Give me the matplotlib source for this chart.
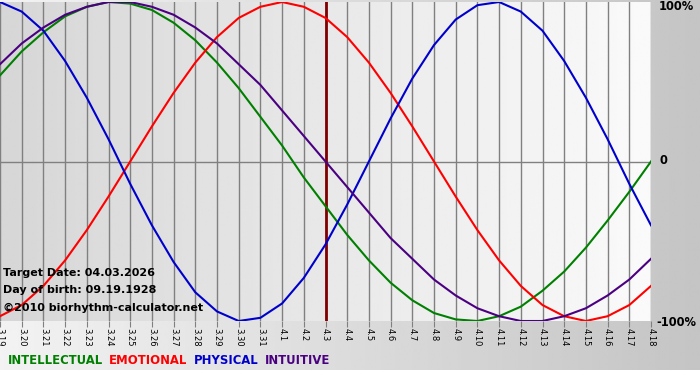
import numpy as np
import matplotlib
matplotlib.use("Agg")
import matplotlib.pyplot as plt

# days shown on the x axis (month.day)
days = ["3.19", "3.20", "3.21", "3.22", "3.23", "3.24", "3.25", "3.26", "3.27", "3.28",
        "3.29", "3.30", "3.31", "4.1", "4.2", "4.3", "4.4", "4.5", "4.6", "4.7",
        "4.8", "4.9", "4.10", "4.11", "4.12", "4.13", "4.14", "4.15", "4.16", "4.17", "4.18"]
target_day = "4.3"

# cycle values, one per day (-1..1)
intellectual = [0.54, 0.69, 0.81, 0.91, 0.97, 1.00, 0.99, 0.95, 0.87, 0.76,
                0.62, 0.46, 0.28, 0.10, -0.10, -0.28, -0.46, -0.62, -0.76, -0.87,
                -0.95, -0.99, -1.00, -0.97, -0.91, -0.81, -0.69, -0.54, -0.37, -0.19, 0.00]
emotional = [-0.97, -0.90, -0.78, -0.62, -0.43, -0.22, 0.00, 0.22, 0.43, 0.62,
             0.78, 0.90, 0.97, 1.00, 0.97, 0.90, 0.78, 0.62, 0.43, 0.22,
             0.00, -0.22, -0.43, -0.62, -0.78, -0.90, -0.97, -1.00, -0.97, -0.90, -0.78]
physical = [1.00, 0.94, 0.82, 0.63, 0.40, 0.14, -0.14, -0.40, -0.63, -0.82,
            -0.94, -1.00, -0.98, -0.89, -0.73, -0.52, -0.27, 0.00, 0.27, 0.52,
            0.73, 0.89, 0.98, 1.00, 0.94, 0.82, 0.63, 0.40, 0.14, -0.14, -0.40]
intuitive = [0.61, 0.74, 0.84, 0.92, 0.97, 1.00, 1.00, 0.97, 0.92, 0.84,
             0.74, 0.61, 0.48, 0.32, 0.16, 0.00, -0.16, -0.32, -0.48, -0.61,
             -0.74, -0.84, -0.92, -0.97, -1.00, -1.00, -0.97, -0.92, -0.84, -0.74, -0.61]

series = [("INTELLECTUAL", intellectual, "#008000"),
          ("EMOTIONAL", emotional, "#ff0000"),
          ("PHYSICAL", physical, "#0000cc"),
          ("INTUITIVE", intuitive, "#4b0082")]

W, H = 700, 380
fig = plt.figure(figsize=(W / 100, H / 100), dpi=100)
fig.patch.set_facecolor("white")

# grey gradient panel behind everything
bg = fig.add_axes([0, 10 / H, 1, 1 - 10 / H])
grad = np.linspace(0.95, 0.77, 256).reshape(1, -1)
bg.imshow(grad, cmap="gray", vmin=0, vmax=1, aspect="auto", extent=[0, 1, 0, 1])
bg.axis("off")

x = np.arange(len(days))
ax = fig.add_axes([0, 1 - 321 / H, 651 / W, 319 / H])
ax.set_xlim(0, len(days) - 1)
ax.set_ylim(-1.0, 1.0)
pgrad = np.linspace(0.84, 0.98, 256).reshape(1, -1)
ax.imshow(pgrad, cmap="gray", vmin=0, vmax=1, aspect="auto",
          extent=[0, len(days) - 1, -1, 1], zorder=0)

for xi in x:
    ax.axvline(xi, color="#808080", lw=1, zorder=1)
ax.axhline(0, color="#808080", lw=1, zorder=1)
ax.axvline(days.index(target_day), color="#800000", lw=2, zorder=2)

for name, vals, col in series:
    ax.plot(x, vals, color=col, lw=1.5, zorder=3, solid_joinstyle="round")

ax.set_xticks(x)
ax.set_xticklabels(days, rotation=270, fontsize=6, family="DejaVu Sans", va="top", ha="center")
ax.tick_params(axis="x", length=4, color="#808080", pad=1)
ax.set_yticks([])
for s in ax.spines.values():
    s.set_visible(False)

bold = dict(fontsize=8, fontweight="bold", family="DejaVu Sans", color="black")
ax.text(0.004, 1 - 271 / 319, "Target Date: 04.03.2026", transform=ax.transAxes, va="center", zorder=4, **bold)
ax.text(0.004, 1 - 288 / 319, "Day of birth: 09.19.1928", transform=ax.transAxes, va="center", zorder=4, **bold)
ax.text(0.004, 1 - 306 / 319, "\u00a92010 biorhythm-calculator.net", transform=ax.transAxes, va="center", zorder=4, **bold)

# right side labels
fig.text(659 / W, 1 - 7 / H, "100%", fontsize=8.3, fontweight="bold", va="center", ha="left")
fig.text(659 / W, 1 - 161 / H, "0", fontsize=8.3, fontweight="bold", va="center", ha="left")
fig.text(656 / W, 1 - 322 / H, "-100%", fontsize=8.3, fontweight="bold", va="center", ha="left")

# legend row
lx = 8
for name, vals, col in series:
    t = fig.text(lx / W, 1 - 361 / H, name, fontsize=8.4, fontweight="bold", color=col, va="center", ha="left")
    fig.canvas.draw()
    bb = t.get_window_extent()
    lx = bb.x1 + 6

fig.savefig("out.png", dpi=100)
